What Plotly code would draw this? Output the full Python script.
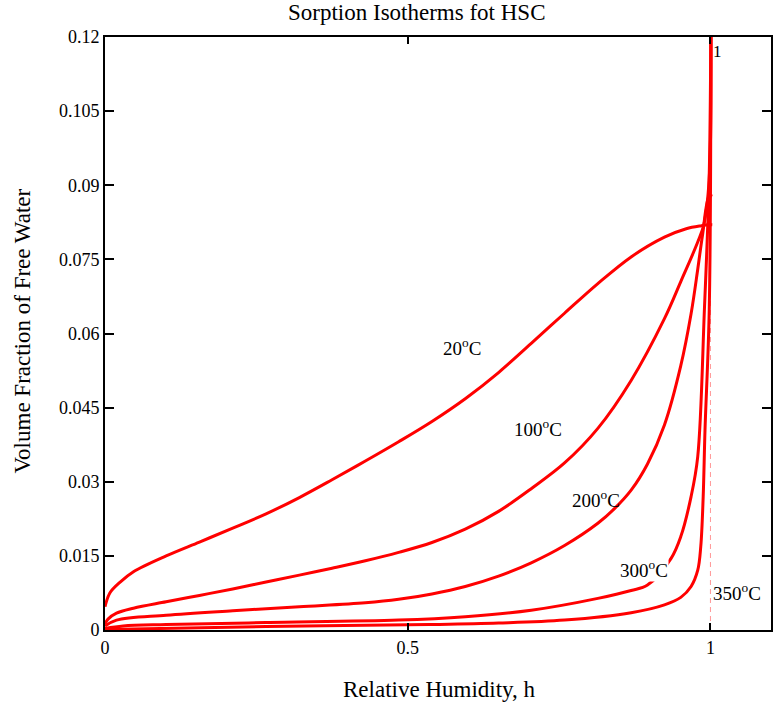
import plotly.graph_objects as go

# ---- data ----
h20 = [0, 0.008, 0.025, 0.047, 0.101, 0.156, 0.211, 0.266, 0.321, 0.375, 0.430, 0.485,
       0.540, 0.595, 0.650, 0.704, 0.759, 0.814, 0.869, 0.924, 0.960, 0.985, 0.998, 1.003]
w20 = [0.0047, 0.0075, 0.0097, 0.0118, 0.0150, 0.0178, 0.0206, 0.0235, 0.0268, 0.0304, 0.0342, 0.0381,
       0.0422, 0.0468, 0.0521, 0.0580, 0.0641, 0.0701, 0.0755, 0.0795, 0.0812, 0.0818, 0.0820, 0.0820]

h100 = [0, 0.005, 0.019, 0.047, 0.101, 0.156, 0.211, 0.266, 0.321, 0.375, 0.430, 0.485,
        0.540, 0.595, 0.650, 0.704, 0.759, 0.814, 0.869, 0.924, 0.951, 0.979, 0.989,
        0.9978, 1.0008]
w100 = [0.0012, 0.0022, 0.0034, 0.0044, 0.0057, 0.0070, 0.0083, 0.0097, 0.0111, 0.0125, 0.0140, 0.0157,
        0.0177, 0.0204, 0.0240, 0.0286, 0.0338, 0.0408, 0.0505, 0.0630, 0.0705, 0.0785, 0.0820,
        0.0910, 0.125]

h200 = [0, 0.019, 0.101, 0.211, 0.321, 0.430, 0.485, 0.540, 0.595, 0.650, 0.704, 0.759,
        0.814, 0.841, 0.869, 0.896, 0.924, 0.951, 0.968, 0.979, 0.987, 0.998, 1.003]
w200 = [0.0008, 0.0020, 0.0030, 0.0039, 0.0047, 0.0055, 0.0062, 0.0073, 0.0088, 0.0109, 0.0136, 0.0171,
        0.0216, 0.0245, 0.0283, 0.0336, 0.0415, 0.0535, 0.0640, 0.0730, 0.0800, 0.0878, 0.0878]

h300 = [0, 0.030, 0.101, 0.266, 0.485, 0.595, 0.704, 0.814, 0.869, 0.896, 0.935, 0.951, 0.968,
        0.979, 0.990, 0.9978, 1.0008]
w300 = [0.0003, 0.0008, 0.0011, 0.0015, 0.0020, 0.0027, 0.0040, 0.0064, 0.0080, 0.0091, 0.0145, 0.0189, 0.0270,
        0.0351, 0.0648, 0.0910, 0.125]

h350 = [0, 0.266, 0.535, 0.650, 0.759, 0.869, 0.924, 0.951, 0.968, 0.979, 0.984, 0.988,
        0.991, 0.998, 1.0008]
w350 = [0.0001, 0.0007, 0.0011, 0.0014, 0.0020, 0.0035, 0.0051, 0.0066, 0.0088, 0.0121, 0.0169, 0.0270,
        0.0405, 0.0648, 0.125]

marker_x = [1, 1]
marker_y = [0, 0.12]

labels = ["20<sup>o</sup>C", "100<sup>o</sup>C", "200<sup>o</sup>C", "300<sup>o</sup>C", "350<sup>o</sup>C"]
label_h = [0.589, 0.715, 0.811, 0.890, 1.044]
label_w = [0.0573, 0.0409, 0.0265, 0.0123, 0.0077]

xticks = [0, 0.5, 1]
yticks = [0, 0.015, 0.03, 0.045, 0.06, 0.075, 0.09, 0.105, 0.12]
ytick_text = ["0", "0.015", "0.03", "0.045", "0.06", "0.075", "0.09", "0.105", "0.12"]

FONT = "Liberation Serif, Times New Roman, serif"
RED = "#ff0000"

fig = go.Figure()
fig.add_trace(go.Scatter(x=marker_x, y=marker_y, mode="lines",
                         line=dict(color="rgba(255,80,80,0.6)", width=1, dash="5px,4px"),
                         hoverinfo="skip", showlegend=False))
for hh, ww in [(h20, w20), (h100, w100), (h200, w200), (h300, w300), (h350, w350)]:
    fig.add_trace(go.Scatter(x=hh, y=ww, mode="lines",
                             line=dict(color=RED, width=3, shape="spline", smoothing=1.0),
                             showlegend=False))

for i, (t, x, y) in enumerate(zip(labels, label_h, label_w)):
    fig.add_annotation(x=x, y=y, text=t, showarrow=False,
                       font=dict(family=FONT, size=19, color="black"),
                       bgcolor="white" if i == 3 else "rgba(0,0,0,0)", borderpad=0)

fig.add_annotation(x=1, y=0.12, text="1", showarrow=False, xanchor="left", yanchor="top",
                   xshift=1, yshift=-3, font=dict(family=FONT, size=17, color="black"))

fig.add_annotation(xref="paper", yref="paper", x=0.467, y=1.042, xanchor="center", yanchor="middle",
                   text="Sorption Isotherms fot HSC",
                   showarrow=False, font=dict(family=FONT, size=23, color="black"))
fig.add_annotation(xref="paper", yref="paper", x=0.503, y=-0.101, xanchor="center", yanchor="middle",
                   text="Relative Humidity, h",
                   showarrow=False, font=dict(family=FONT, size=23, color="black"))
fig.add_annotation(xref="paper", yref="paper", x=-0.124, y=0.504, xanchor="center", yanchor="middle",
                   text="Volume Fraction of Free Water",
                   textangle=-90, showarrow=False, font=dict(family=FONT, size=23, color="black"))

fig.update_layout(
    width=773, height=709,
    margin=dict(l=105, r=0, t=37, b=79),
    paper_bgcolor="white", plot_bgcolor="white",
    font=dict(family=FONT, size=18, color="black"),
)
fig.update_xaxes(range=[0, 1.1], tickvals=xticks, ticktext=["0", "0.5", "1"],
                 ticks="inside", ticklen=7, tickwidth=2, tickcolor="black",
                 showline=True, linecolor="black", linewidth=2, mirror="ticks",
                 showgrid=False, zeroline=False, tickfont=dict(family=FONT, size=18))
fig.update_yaxes(range=[0, 0.12], tickvals=yticks, ticktext=ytick_text,
                 ticks="inside", ticklen=9, tickwidth=2, tickcolor="black",
                 showline=True, linecolor="black", linewidth=2, mirror="ticks",
                 showgrid=False, zeroline=False, tickfont=dict(family=FONT, size=18))

fig.write_html("out.html")
